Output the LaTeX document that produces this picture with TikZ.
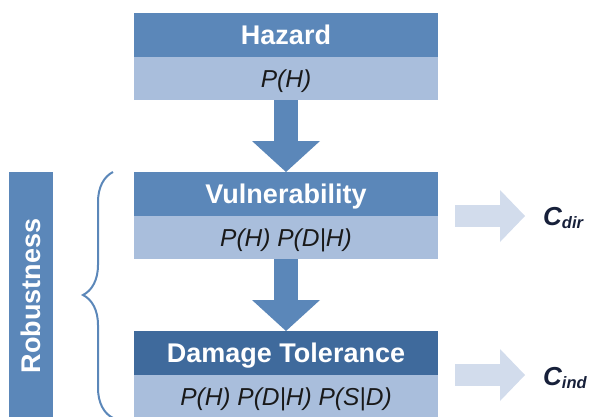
\documentclass[tikz,border=0pt]{standalone}
\usepackage{fontspec}
\setmainfont{Liberation Sans}
\usetikzlibrary{positioning,arrows.meta,decorations.pathreplacing}
\definecolor{headblue}{HTML}{5B87B9}
\definecolor{deepblue}{HTML}{3F6A9C}
\definecolor{lightblue}{HTML}{A9BEDC}
\definecolor{paleblue}{HTML}{D2DCEC}
\definecolor{inkblue}{HTML}{17203A}
\begin{document}
\begin{tikzpicture}[x=1pt,y=-1pt,
  head/.style={fill=headblue,text=white,font=\fontsize{27}{27}\selectfont\bfseries,
    minimum width=304pt,minimum height=44pt,inner sep=0pt,outer sep=0pt,
    text height=19pt,text depth=0pt},
  body/.style={fill=lightblue,text=black!90,font=\fontsize{24.5}{24.5}\selectfont\itshape,
    minimum width=304pt,minimum height=43pt,inner sep=0pt,outer sep=0pt,
    text height=17.5pt,text depth=0pt},
  downarrow/.style={draw=headblue,line width=24pt,
    -{Triangle[width=68pt,length=31pt,line width=0pt]}},
  outarrow/.style={draw=paleblue,line width=22pt,
    -{Triangle[width=52pt,length=25pt,line width=0pt]}},
  cost/.style={text=inkblue,font=\fontsize{26}{26}\selectfont\bfseries\itshape,inner sep=0pt}]
\useasboundingbox (0,0) rectangle (595,416);

% the three stages
\node[head] (haz) at (286,35) {Hazard};
\node[body,below=0pt of haz] (hazp) {P(H)};
\node[head] (vul) at (286,194) {Vulnerability};
\node[body,below=0pt of vul] (vulp) {P(H) P(D|H)};
\node[head,fill=deepblue] (dam) at (286,353) {Damage Tolerance};
\node[body,below=0pt of dam] (damp) {P(H) P(D|H) P(S|D)};

\draw[downarrow] (hazp) -- (vul);
\draw[downarrow] (vulp) -- (dam);

% consequences
\node[cost,anchor=base west] (cdir) at (543,225) {C\raisebox{-3pt}{\fontsize{16.5}{16.5}\selectfont dir}};
\node[cost,anchor=base west] (cind) at (543,385) {C\raisebox{-3pt}{\fontsize{16.5}{16.5}\selectfont ind}};
\coordinate (dirtail) at ([xshift=17pt]vul.south east);
\coordinate (indtail) at ([xshift=17pt]dam.south east);
\draw[outarrow] (dirtail) -- ([xshift=-18pt]cdir.west |- dirtail);
\draw[outarrow] (indtail) -- ([xshift=-18pt]cind.west |- indtail);

% robustness bar and brace
\node[fill=headblue,text=white,font=\fontsize{27}{27}\selectfont\bfseries,rotate=90,
  minimum width=248pt,minimum height=44pt,inner sep=0pt,text height=19pt,text depth=0pt]
  (rob) at (31,296) {Robustness};
\draw[headblue,line width=2pt,decorate,decoration={brace,amplitude=30pt}]
  ([xshift=-21pt]damp.south west) -- ([xshift=-21pt]vul.north west);
\end{tikzpicture}
\end{document}
